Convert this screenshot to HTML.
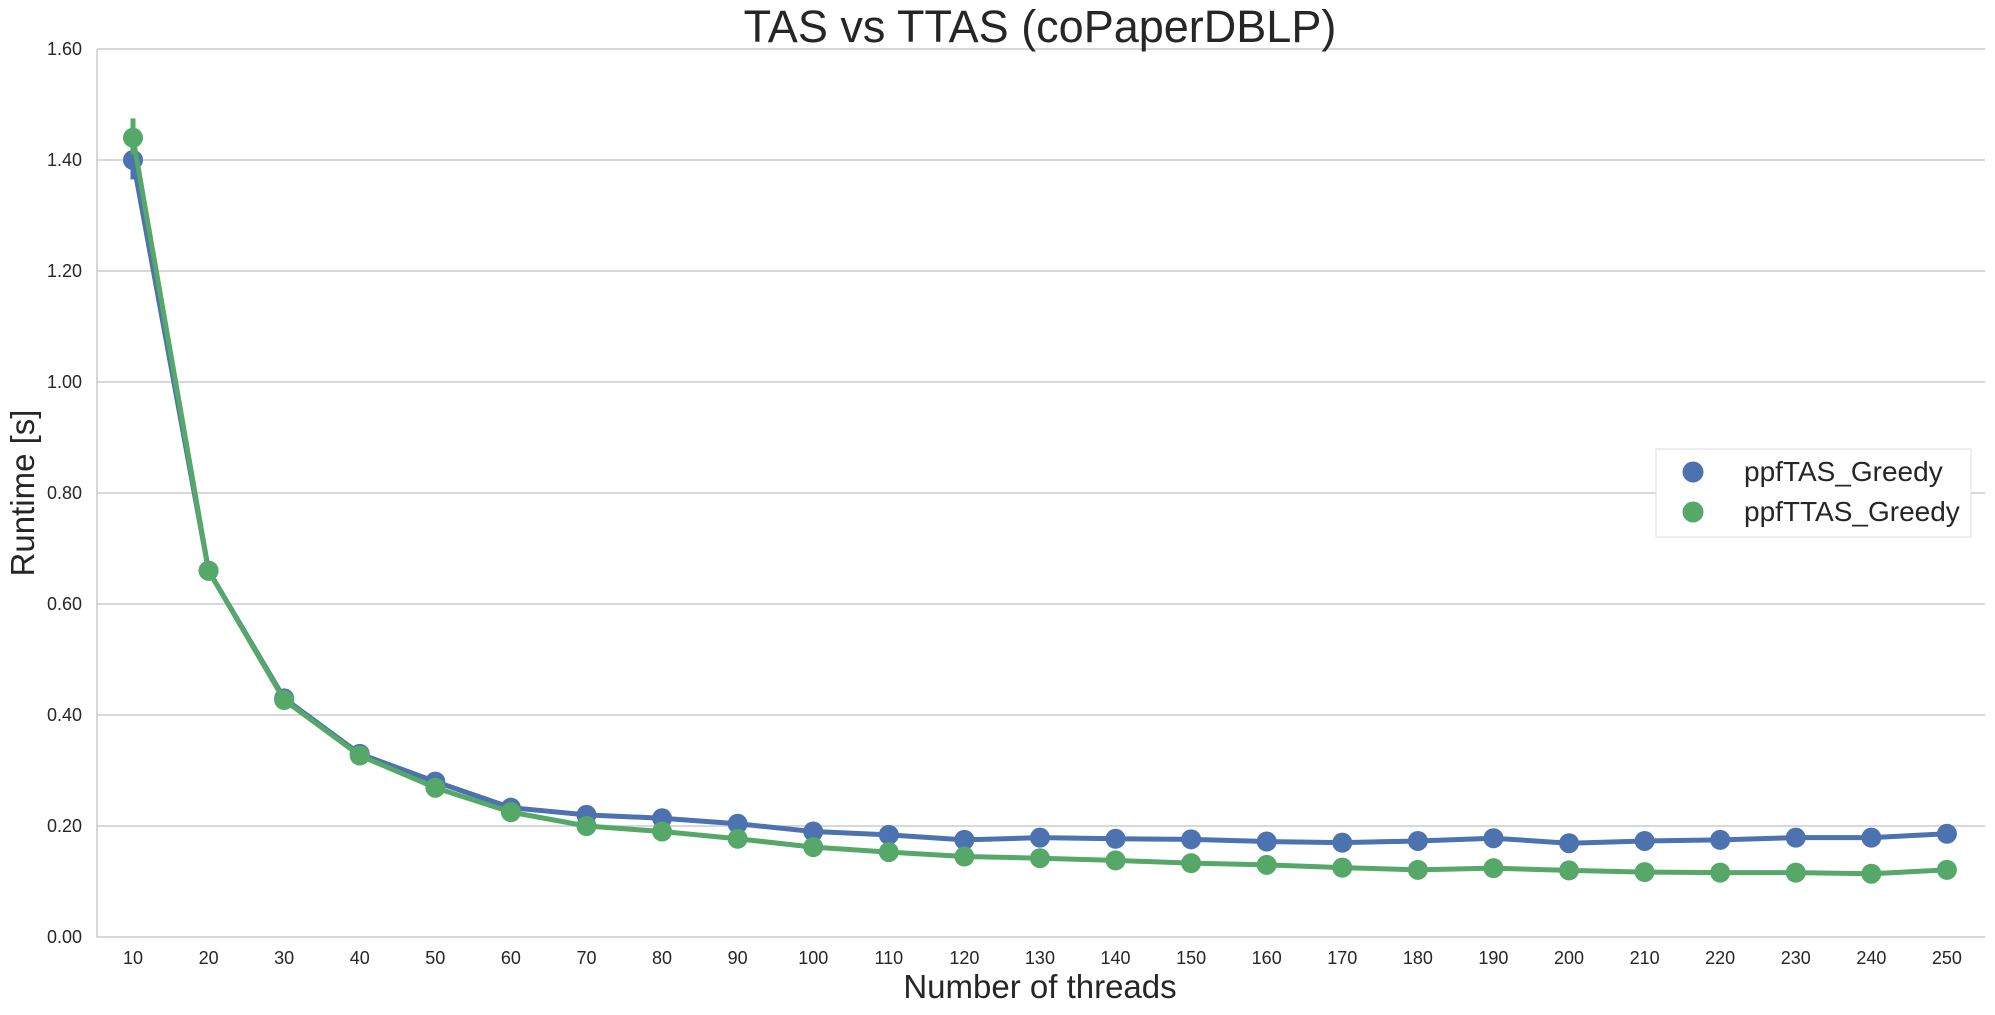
<!DOCTYPE html>
<html><head><meta charset="utf-8"><style>
html,body{margin:0;padding:0;background:#fff;}
svg{display:block;font-family:"Liberation Sans",Arial,sans-serif;}
</style></head><body>
<svg id="chart" width="1995" height="1015" viewBox="0 0 1995 1015" xmlns="http://www.w3.org/2000/svg">
<rect width="1995" height="1015" fill="#fff"/>
<g id="grid"></g>
<g id="axes"></g>
<g id="series"></g>
<text x="1040" y="42" text-anchor="middle" font-size="45" fill="#262626">TAS vs TTAS (coPaperDBLP)</text>
<text x="1040" y="998" text-anchor="middle" font-size="33" fill="#262626">Number of threads</text>
<text transform="translate(34,493) rotate(-90)" text-anchor="middle" font-size="33" fill="#262626">Runtime [s]</text>
<g>
<rect x="1656" y="449" width="315" height="88" fill="#fff" stroke="#ddd" stroke-width="1"/>
<g>
<circle cx="1693" cy="472" r="10.5" fill="#4c72b0"/>
<text x="1744" y="481" font-size="28" fill="#262626">ppfTAS_Greedy</text></g>
<g>
<circle cx="1693" cy="512" r="10.5" fill="#55a868"/>
<text x="1744" y="521" font-size="28" fill="#262626">ppfTTAS_Greedy</text></g>
</g>
</svg>
<script>
const categories=[10,20,30,40,50,60,70,80,90,100,110,120,130,140,150,160,170,180,190,200,210,220,230,240,250];
const tasValues=[1.40,0.66,0.43,0.33,0.28,0.233,0.22,0.214,0.204,0.19,0.184,0.175,0.179,0.177,0.176,0.172,0.170,0.173,0.178,0.169,0.173,0.175,0.179,0.179,0.186];
const ttasValues=[1.44,0.66,0.427,0.327,0.269,0.225,0.20,0.19,0.177,0.162,0.153,0.145,0.142,0.138,0.133,0.130,0.125,0.121,0.124,0.120,0.117,0.116,0.116,0.114,0.121];
const tasErrLow=[1.365];const tasErrHigh=[1.425];
const ttasErrLow=[1.41];const ttasErrHigh=[1.475];
const yTicks=[0,0.2,0.4,0.6,0.8,1.0,1.2,1.4,1.6];
const yTickLabels=["0.00","0.20","0.40","0.60","0.80","1.00","1.20","1.40","1.60"];

const NS="http://www.w3.org/2000/svg";
const L=97,R=1985,T=49,B=937,X0=133,DX=75.58;
function xs(i){return X0+i*DX;}
function ys(v){return B-(v/1.6)*(B-T);}
function mk(tag,attrs,parent){const e=document.createElementNS(NS,tag);for(const k in attrs)e.setAttribute(k,attrs[k]);parent.appendChild(e);return e;}
const grid=document.getElementById('grid'),axes=document.getElementById('axes'),ser=document.getElementById('series');
yTicks.forEach((v,i)=>{
  const y=ys(v);
  const ln=mk('line',{x1:L,x2:R,y1:y,y2:y,stroke:'#cccccc','stroke-width':1.5},grid);
  
  
  const t=mk('text',{x:82,y:y+6,'text-anchor':'end','font-size':18,fill:'#262626'},axes);
  t.textContent=yTickLabels[i];
  
  
});
const la=mk('line',{x1:L,x2:L,y1:T,y2:B,stroke:'#cccccc','stroke-width':1.5},axes);


categories.forEach((c,i)=>{
  const t=mk('text',{x:xs(i),y:964,'text-anchor':'middle','font-size':18,fill:'#262626'},axes);
  t.textContent=c;
  
  
});
function draw(vals,lo,hi,color,name){
  const g=mk('g',{},ser);
  
  
  const pts=vals.map((v,i)=>xs(i)+','+ys(v)).join(' ');
  const pl=mk('polyline',{points:pts,fill:'none',stroke:color,'stroke-width':5,'stroke-linejoin':'round'},g);
  
  
  lo.forEach((l,i)=>{
    const e=mk('line',{x1:xs(i),x2:xs(i),y1:ys(l),y2:ys(hi[i]),stroke:color,'stroke-width':5},g);
    
    
  });
  vals.forEach((v,i)=>{
    const c=mk('circle',{cx:xs(i),cy:ys(v),r:10,fill:color},g);
    
    
  });
}
draw(tasValues,tasErrLow,tasErrHigh,'#4c72b0','tas-series');
draw(ttasValues,ttasErrLow,ttasErrHigh,'#55a868','ttas-series');
</script>
</body></html>
